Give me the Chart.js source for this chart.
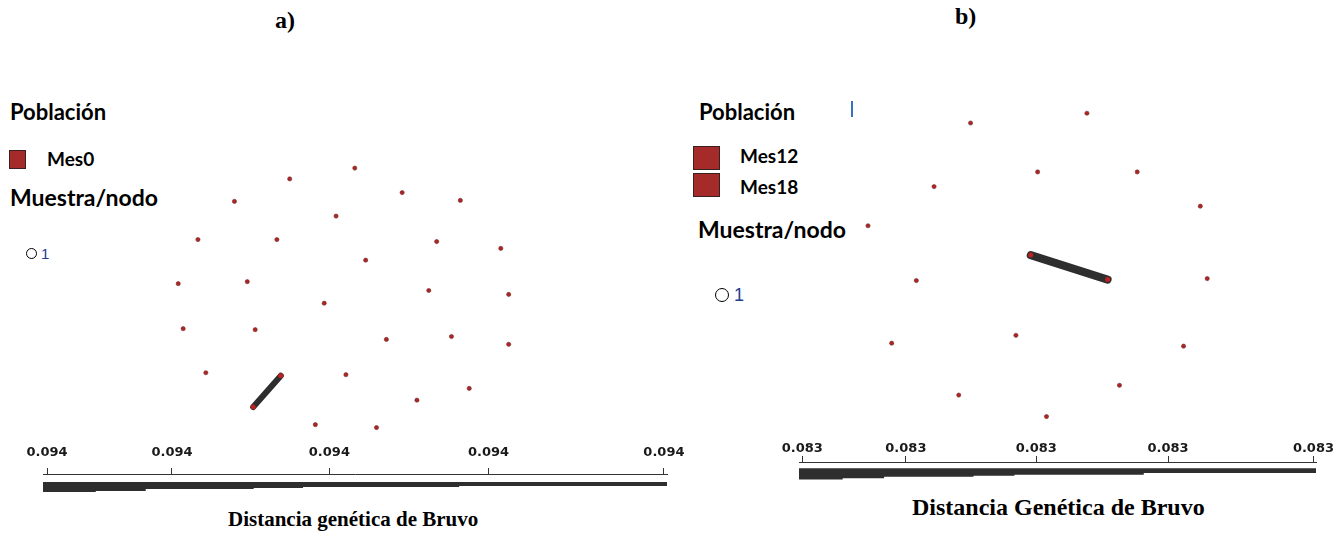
<!DOCTYPE html>
<html>
<head>
<meta charset="utf-8">
<script src="https://cdn.jsdelivr.net/npm/chart.js@4.4.1/dist/chart.umd.min.js"></script>
<style>
  body { margin: 0; background: #fff; width: 1341px; height: 539px; position: relative; overflow: hidden; }
  canvas { position: absolute; }
  .t { position: absolute; line-height: 1; white-space: nowrap; color: #000; }
  .serif { font-family: "Liberation Serif", "Times New Roman", serif; font-weight: bold; }
  .sans { font-family: Lato, "Open Sans", sans-serif; font-weight: bold; }
  .sq { position: absolute; background: #a52a2a; border: 1px solid #3a2020; box-sizing: border-box; }
  .circ { position: absolute; border: 1px solid #000; border-radius: 50%; box-sizing: border-box; background: #fff; }
</style>
</head>
<body>
<div class="t serif" style="left:275px;top:8px;font-size:24px;">a)</div>
<div class="t serif" style="left:955px;top:4px;font-size:24px;">b)</div>

<!-- legend a -->
<div class="t sans" style="left:10px;top:101px;font-size:22px;">Población</div>
<div class="sq" style="left:9px;top:150px;width:17px;height:19px;"></div>
<div class="t sans" style="left:47px;top:149px;font-size:19px;">Mes0</div>
<div class="t sans" style="left:10px;top:186px;font-size:23px;">Muestra/nodo</div>
<div class="circ" style="left:26px;top:248px;width:11px;height:11px;"></div>
<div class="t" style="left:41px;top:246px;font-size:15px;font-family:'Liberation Sans',Arial,sans-serif;color:#1f3c8f;">1</div>

<!-- legend b -->
<div class="t sans" style="left:699px;top:101px;font-size:22px;">Población</div>
<div class="sq" style="left:693px;top:146px;width:27px;height:24px;"></div>
<div class="sq" style="left:693px;top:173px;width:27px;height:24px;"></div>
<div class="t sans" style="left:740px;top:146px;font-size:19px;">Mes12</div>
<div class="t sans" style="left:740px;top:177px;font-size:19px;">Mes18</div>
<div class="t sans" style="left:698px;top:218px;font-size:23px;">Muestra/nodo</div>
<div class="circ" style="left:715px;top:288px;width:14px;height:14px;"></div>
<div class="t" style="left:734px;top:286px;font-size:18px;font-family:'Liberation Sans',Arial,sans-serif;color:#1f3c8f;">1</div>
<div style="position:absolute;left:851px;top:101px;width:2px;height:16px;background:#3a6fc4;"></div>

<div class="t serif" style="left:228px;top:509px;font-size:21px;">Distancia genética de Bruvo</div>
<div class="t serif" style="left:912px;top:495px;font-size:24px;">Distancia Genética de Bruvo</div>

<canvas id="netA" style="left:0;top:0;" width="680" height="440"></canvas>
<canvas id="netB" style="left:680px;top:0;" width="661" height="430"></canvas>
<canvas id="scaleA" style="left:0;top:440px;" width="700" height="70"></canvas>
<canvas id="scaleB" style="left:760px;top:430px;" width="581" height="70"></canvas>

<script>
// nodes of the network (layout units)
const nodesA = [
  [355,167],[289,178],[403,192],[462,200],[233,201],[336,216],[196,240],[276,240],
  [438,242],[503,249],[366,261],[176,285],[246,283],[430,292],[511,296],[324,305],
  [181,331],[254,332],[387,342],[453,339],[511,347],[204,376],[346,378],[471,392],
  [418,404],[315,429],[377,432]
];
const edgeA = [[252,411],[280,379]];

const nodesB = [
  [1088,111],[970,121],[1038,171],[1139,171],[933,186],[1203,206],[866,226],[915,282],
  [1210,280],[1016,338],[890,346],[1186,349],[1121,389],[958,399],[1047,421]
];
const edgeB = [[1031,256],[1109,281]];

// scale bar: relative tick positions and labels
const tickPos = [0, 0.2026, 0.4577, 0.7156, 1];
const tickLabelsA = ['0.094', '0.094', '0.094', '0.094', '0.094'];
const tickLabelsB = ['0.083', '0.083', '0.083', '0.083', '0.083'];
// wedge under the scale: step breaks and thickness per step
const wedgeBreaks = [-0.0065, 0.079, 0.160, 0.335, 0.415, 0.668, 0.750, 1.005];
const wedgeA = [11, 10, 9, 7, 6, 5, 4];
const wedgeB = [12, 10.5, 9.5, 8, 7, 6, 4.5];

const dotColor = '#b02424';

function netChart(id, nodes, edge, xr, yr, lineW) {
  new Chart(document.getElementById(id), {
    type: 'scatter',
    data: {
      datasets: [
        {
          type: 'line',
          data: edge.map(p => ({ x: p[0], y: p[1] })),
          borderColor: '#2e2e2e',
          borderWidth: lineW,
          borderCapStyle: 'round',
          pointRadius: 2.5,
          pointBackgroundColor: '#c02020',
          pointBorderWidth: 0
        },
        {
          data: nodes.map(p => ({ x: p[0], y: p[1] })),
          pointRadius: 2.1,
          backgroundColor: dotColor,
          borderColor: '#6e3030',
          borderWidth: 0.6
        }
      ]
    },
    options: {
      responsive: false,
      animation: false,
      layout: { padding: 0 },
      plugins: { legend: { display: false }, tooltip: { enabled: false } },
      scales: {
        x: { type: 'linear', display: false, min: xr[0], max: xr[1] },
        y: { type: 'linear', display: false, min: yr[0], max: yr[1], reverse: true }
      }
    }
  });
}

function scaleChart(id, labels, wedge, top, axisH, pad, tickPad) {
  const topLine = [wedgeBreaks[0], wedgeBreaks[wedgeBreaks.length - 1]].map(x => ({ x: x, y: top }));
  const bottom = wedgeBreaks.map((x, i) => ({ x: x, y: top + wedge[Math.min(i, wedge.length - 1)] }));
  new Chart(document.getElementById(id), {
    type: 'line',
    data: {
      datasets: [
        { data: topLine, borderWidth: 0, pointRadius: 0, fill: false },
        { data: bottom, stepped: 'after', borderWidth: 0, pointRadius: 0,
          fill: '-1', backgroundColor: '#2e2e2e' }
      ]
    },
    options: {
      responsive: false,
      animation: false,
      layout: { padding: { left: pad[0], right: pad[1], top: 0, bottom: 0 } },
      plugins: { legend: { display: false }, tooltip: { enabled: false } },
      scales: {
        x: {
          type: 'linear', position: 'top',
          min: wedgeBreaks[0], max: wedgeBreaks[wedgeBreaks.length - 1],
          afterBuildTicks: axis => { axis.ticks = tickPos.map(v => ({ value: v })); },
          afterFit: axis => { axis.height = axisH; },
          ticks: {
            autoSkip: false, maxRotation: 0, padding: tickPad, color: '#1a1a1a',
            font: { family: 'DejaVu Sans', weight: 'bold', size: 13 },
            callback: (v, i) => labels[i]
          },
          grid: { drawOnChartArea: false, tickLength: 6, color: '#333' },
          border: { display: true, color: '#333', width: 1 }
        },
        y: { type: 'linear', display: false, min: 0, max: 36, reverse: true }
      }
    }
  });
}

netChart('netA', nodesA, edgeA, [0, 680], [0, 440], 6);
netChart('netB', nodesB, edgeB, [680, 1341], [0, 430], 8);
scaleChart('scaleA', tickLabelsA, wedgeA, 8, 34, [43, 33], 8);
scaleChart('scaleB', tickLabelsB, wedgeB, 6, 32, [39, 25], 0);
</script>
</body>
</html>
